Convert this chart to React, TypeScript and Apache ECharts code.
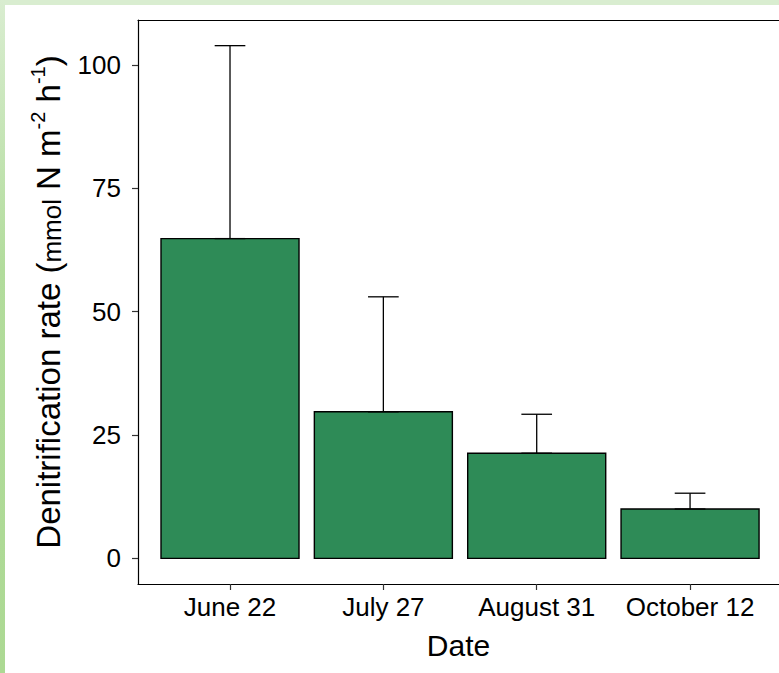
import React, { useEffect, useRef } from "react";
import * as echarts from "echarts";

const categories = ["June 22", "July 27", "August 31", "October 12"];
const positions = [1, 2, 3, 4];
const means = [64.8, 29.7, 21.3, 10.0];
const upper = [103.9, 53.0, 29.2, 13.2];
const yTicks = [0, 25, 50, 75, 100];

const FONT = "'Liberation Sans', Arial, Helvetica, sans-serif";

export default function App() {
  const ref = useRef<HTMLDivElement>(null);
  useEffect(() => {
    document.body.style.margin = "0";
    document.body.style.overflow = "hidden";
    if (!ref.current) return;
    const chart = echarts.init(ref.current, undefined, { renderer: "svg" });
    const data = positions.map((p, i) => [p, means[i], upper[i]]);
    const axisLine = { show: true, onZero: false, lineStyle: { color: "#000", width: 1.2 } };
    chart.setOption({
      animation: false,
      backgroundColor: "transparent",
      textStyle: { fontFamily: FONT },
      grid: {
        left: 138,
        top: 20,
        right: 0,
        bottom: 89,
        show: false,
      },
      xAxis: [
        {
          type: "value",
          min: 0.4,
          max: 4.58,
          position: "bottom",
          axisLine,
          splitLine: { show: false },
          axisTick: {
            show: true,
            customValues: positions,
            length: 6,
            lineStyle: { color: "#333", width: 1.2 },
          },
          axisLabel: {
            customValues: positions,
            formatter: (v: number) => categories[Math.round(v) - 1] ?? "",
            fontSize: 26,
            color: "#000",
            fontFamily: FONT,
            margin: 10,
          },
          name: "Date",
          nameLocation: "middle",
          nameGap: 46,
          nameTextStyle: { fontSize: 30, color: "#000", fontFamily: FONT },
        },
        {
          type: "value",
          min: 0.4,
          max: 4.58,
          position: "top",
          axisLine,
          splitLine: { show: false },
          axisTick: { show: false },
          axisLabel: { show: false },
        },
      ],
      yAxis: {
        type: "value",
        min: -5.2,
        max: 109.1,
        axisLine,
        splitLine: { show: false },
        axisTick: {
          show: true,
          customValues: yTicks,
          length: 6,
          lineStyle: { color: "#333", width: 1.2 },
        },
        axisLabel: {
          customValues: yTicks,
          fontSize: 26,
          color: "#000",
          fontFamily: FONT,
          margin: 17,
        },
        name:
          "{a|Denitrification rate (}{b|mmol}{a| N m}{s|-2}{a| h}{s|-1}{a|)}",
        nameLocation: "middle",
        nameRotate: 90,
        nameGap: 73,
        nameTextStyle: {
          color: "#000",
          fontFamily: FONT,
          rich: {
            a: { fontSize: 33, fontFamily: FONT, color: "#000", lineHeight: 37, verticalAlign: "bottom" },
            b: { fontSize: 26, fontFamily: FONT, color: "#000", lineHeight: 37, verticalAlign: "bottom" },
            s: { fontSize: 20, fontFamily: FONT, color: "#000", lineHeight: 37, verticalAlign: "top" },
          },
        },
      },
      series: [
        {
          type: "custom",
          xAxisIndex: 0,
          data,
          renderItem: (params: any, api: any) => {
            const x = api.value(0);
            const v = api.value(1);
            const e = api.value(2);
            const base = api.coord([x, 0]);
            const top = api.coord([x, v]);
            const errTop = api.coord([x, e]);
            const w = api.size([0.9, 0])[0];
            const cw = api.size([0.2, 0])[0];
            const ls = { stroke: "#000", lineWidth: 1.3 };
            return {
              type: "group",
              children: [
                {
                  type: "rect",
                  shape: { x: base[0] - w / 2, y: top[1], width: w, height: base[1] - top[1] },
                  style: { fill: "#2E8B57", stroke: "#000", lineWidth: 1.4 },
                },
                {
                  type: "line",
                  shape: { x1: top[0], y1: top[1], x2: top[0], y2: errTop[1] },
                  style: ls,
                },
                {
                  type: "line",
                  shape: { x1: top[0] - cw / 2, y1: errTop[1], x2: top[0] + cw / 2, y2: errTop[1] },
                  style: ls,
                },
                {
                  type: "line",
                  shape: { x1: top[0] - cw / 2, y1: top[1], x2: top[0] + cw / 2, y2: top[1] },
                  style: ls,
                },
              ],
            };
          },
        },
      ],
    });
    return () => chart.dispose();
  }, []);

  return (
    <div
      style={{
        position: "fixed",
        left: 0,
        top: 0,
        width: 779,
        height: 673,
        overflow: "hidden",
        background: "#fff",
      }}
    >
      <div
        style={{
          position: "absolute",
          left: 0,
          top: 0,
          width: 779,
          height: 5,
          background: "#d9edd0",
        }}
      />
      <div
        style={{
          position: "absolute",
          left: 0,
          top: 0,
          width: 5,
          height: 673,
          background: "linear-gradient(#d9edd0, #b2dc9c 40%, #acd993)",
        }}
      />
      <div ref={ref} style={{ position: "absolute", left: 0, top: 0, width: 779, height: 673 }} />
    </div>
  );
}
